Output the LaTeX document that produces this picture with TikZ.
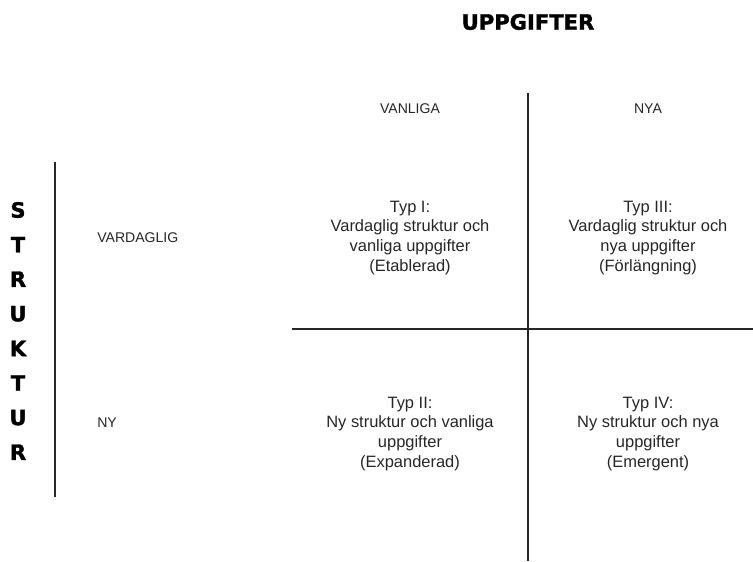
\documentclass[tikz,border=0pt]{standalone}
\usepackage{fontspec}
\setmainfont{Liberation Sans}
\newfontfamily\heavyfont[BoldFeatures={FakeBold=1.5}]{DejaVu Sans}

\tikzset{
    axistitle/.style={font=\heavyfont\bfseries\fontsize{15}{17}\selectfont, inner sep=0pt},
    axislabel/.style={font=\fontsize{10}{12}\selectfont, inner sep=0pt, black!85},
    celltext/.style={font=\fontsize{11.7}{14.2}\selectfont, align=center, inner sep=0pt, black!85},
    gridline/.style={line width=1.3pt, black!85}
}

\begin{document}
\begin{tikzpicture}[x=0.025cm, y=-0.025cm]
    \useasboundingbox (0,0) rectangle (753,561);

    % Define coordinates for the lines
    \coordinate (ltop) at (55,162);
    \coordinate (lbot) at (55,497);
    \coordinate (vtop) at (528,93);
    \coordinate (vbot) at (528,561);
    \coordinate (hleft) at (292,329);
    \coordinate (hright) at (753,329);

    % Draw titles
    \node[axistitle] (uppgifter) at (528,22) {UPPGIFTER};
    \foreach \c [count=\i from 0] in {S,T,R,U,K,T,U,R} {
        \node[axistitle] (letter\i) at (18,{210+34.6*\i}) {\c};
    }

    % Draw column and row labels
    \node[axislabel] (vanliga) at (410,109) {VANLIGA};
    \node[axislabel] (nya) at (648,109) {NYA};
    \node[axislabel, anchor=west] (vardaglig) at (97,238) {VARDAGLIG};
    \node[axislabel, anchor=west] (ny) at (97,423) {NY};

    % Draw cells
    \node[celltext] (typI) at (410,238) {Typ I:\\Vardaglig struktur och\\vanliga uppgifter\\(Etablerad)};
    \node[celltext] (typIII) at (648,238) {Typ III:\\Vardaglig struktur och\\nya uppgifter\\(Förlängning)};
    \node[celltext] (typII) at (410,434) {Typ II:\\Ny struktur och vanliga\\uppgifter\\(Expanderad)};
    \node[celltext] (typIV) at (648,434) {Typ IV:\\Ny struktur och nya\\uppgifter\\(Emergent)};

    % Draw lines
    \draw[gridline] (ltop) -- (lbot);
    \draw[gridline] (vtop) -- (vbot);
    \draw[gridline] (hleft) -- (hright);
\end{tikzpicture}
\end{document}
